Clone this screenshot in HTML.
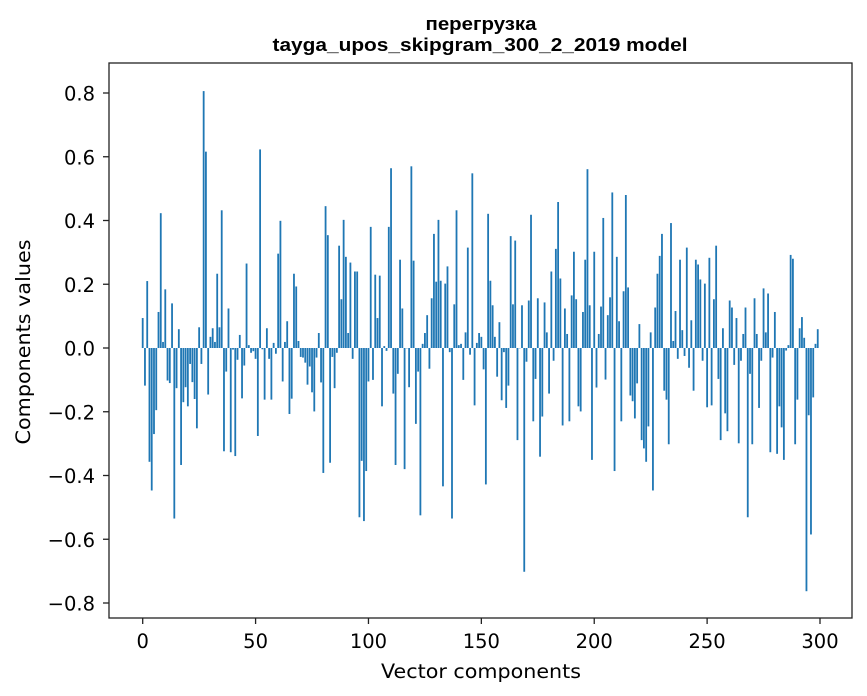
<!DOCTYPE html>
<html><head><meta charset="utf-8"><style>
html,body{margin:0;padding:0;background:#fff;}
svg{display:block;font-family:"DejaVu Sans","Liberation Sans",sans-serif;}
</style></head><body>
<svg id="chart" width="867" height="696" viewBox="0 0 867 696">
<text x="481" y="30" text-anchor="middle" font-size="18" font-weight="bold" font-family="Liberation Sans, sans-serif" textLength="111" lengthAdjust="spacingAndGlyphs">перегрузка</text>
<text x="480" y="51" text-anchor="middle" font-size="18" font-weight="bold" font-family="Liberation Sans, sans-serif" textLength="415" lengthAdjust="spacingAndGlyphs">tayga_upos_skipgram_300_2_2019 model</text>
<g id="bars"></g>
<g id="yticks"></g>
<g id="xticks"></g>
<rect x="109" y="63" width="743" height="555" fill="none" stroke="#222" stroke-width="1.3"/>
<text x="481" y="678" text-anchor="middle" font-size="19.5" textLength="200" lengthAdjust="spacingAndGlyphs">Vector components</text>
<text transform="translate(30,342) rotate(-90)" text-anchor="middle" font-size="19.5" textLength="205" lengthAdjust="spacingAndGlyphs">Components values</text>
</svg>
<script>
const values = [0.094,-0.118,0.21,-0.357,-0.447,-0.27,-0.195,0.113,0.423,0.019,
0.184,-0.102,-0.11,0.14,-0.535,-0.126,0.059,-0.367,-0.17,-0.123,
-0.183,-0.05,-0.107,-0.16,-0.252,0.065,-0.05,0.806,0.616,-0.146,
0.035,0.062,0.019,0.233,0.065,0.432,-0.324,-0.074,0.124,-0.327,
-0.005,-0.339,-0.037,0.041,-0.158,-0.055,0.265,0.009,-0.015,-0.01,
-0.034,-0.276,0.623,-0.004,-0.162,0.062,-0.034,-0.162,0.016,-0.018,
0.296,0.399,-0.105,0.019,0.084,-0.207,-0.159,0.233,0.193,0.022,
-0.028,-0.03,-0.046,-0.115,-0.058,-0.139,-0.199,-0.03,0.047,-0.108,
-0.392,0.445,0.354,-0.36,-0.028,-0.126,-0.015,0.321,0.153,0.402,
0.286,0.047,0.268,-0.034,0.24,0.24,-0.531,-0.354,-0.543,-0.386,
-0.105,0.38,-0.1,0.23,0.094,0.227,-0.183,0.006,-0.009,0.38,
0.564,-0.143,-0.367,-0.081,0.277,0.124,-0.38,0.0,-0.123,0.57,
0.274,-0.238,-0.074,-0.525,0.013,0.047,0.103,-0.065,0.156,0.358,
0.208,0.402,0.211,-0.434,0.202,0.256,-0.013,-0.535,0.137,0.432,
0.009,0.013,-0.1,0.049,0.315,-0.021,0.548,-0.18,0.016,0.047,
0.035,-0.067,-0.428,0.421,0.211,0.134,0.035,-0.09,0.081,-0.164,
-0.013,-0.188,-0.118,0.351,0.137,0.337,-0.289,0.0,0.134,-0.702,
-0.043,0.149,0.418,-0.23,-0.097,0.156,-0.341,-0.215,0.143,0.049,
-0.143,0.24,-0.04,0.311,0.458,0.218,-0.243,0.124,0.044,-0.23,
0.165,0.302,0.153,-0.183,-0.199,0.113,0.277,0.561,0.134,-0.351,
0.302,-0.124,0.044,0.13,0.408,-0.099,0.103,0.159,0.488,-0.386,
0.286,0.084,-0.23,0.178,0.48,0.19,-0.149,-0.167,-0.221,-0.111,
0.075,-0.289,-0.315,-0.357,-0.246,0.049,-0.447,0.127,0.233,0.289,
0.358,-0.134,-0.162,-0.302,0.392,0.022,0.116,-0.034,0.277,0.056,
-0.025,0.315,-0.062,0.087,-0.134,0.277,0.262,0.215,-0.04,0.202,
-0.186,0.283,-0.18,0.153,0.321,-0.097,-0.289,0.062,-0.205,-0.261,
0.149,0.127,-0.053,0.094,-0.299,-0.04,0.044,0.127,-0.531,-0.081,
-0.302,0.156,0.044,-0.188,-0.04,0.187,0.049,0.171,-0.327,-0.03,
0.113,-0.332,-0.183,-0.249,-0.351,-0.008,0.009,0.292,0.28,-0.302,
-0.162,0.062,0.097,0.032,-0.763,-0.211,-0.585,-0.155,0.013,0.059];
const yTickValues = [0.8,0.6,0.4,0.2,0.0,-0.2,-0.4,-0.6,-0.8];
const yTickLabels = ["0.8","0.6","0.4","0.2","0.0","\u22120.2","\u22120.4","\u22120.6","\u22120.8"];
const xTickValues = [0,50,100,150,200,250,300];
const xTickLabels = ["0","50","100","150","200","250","300"];

const NS = "http://www.w3.org/2000/svg";
function xScale(i){ return 142.7 + (820.0-142.7)*i/300; }
function yScale(v){ return 348 - v*318.75; }
const bw = (xScale(1)-xScale(0))*0.8;

const barsG = document.getElementById('bars');
values.forEach(function(v,i){
  const r = document.createElementNS(NS,'rect');
  const y0 = yScale(0), y1 = yScale(v);
  r.setAttribute('x', xScale(i)-bw/2);
  r.setAttribute('y', Math.min(y0,y1));
  r.setAttribute('width', bw);
  r.setAttribute('height', Math.max(Math.abs(y1-y0),0.3));
  r.setAttribute('fill', '#1f77b4');
  
  
  barsG.appendChild(r);
});

const yg = document.getElementById('yticks');
yTickValues.forEach(function(v,k){
  const y = yScale(v);
  const l = document.createElementNS(NS,'line');
  l.setAttribute('x1',103); l.setAttribute('x2',109);
  l.setAttribute('y1',y); l.setAttribute('y2',y);
  l.setAttribute('stroke','#222'); l.setAttribute('stroke-width','1.3');
  
  
  yg.appendChild(l);
  const t = document.createElementNS(NS,'text');
  t.setAttribute('x',95); t.setAttribute('y',y+7.5);
  t.setAttribute('text-anchor','end'); t.setAttribute('font-size','19.5');
  t.textContent = yTickLabels[k];
  
  
  yg.appendChild(t);
});

const xg = document.getElementById('xticks');
xTickValues.forEach(function(v,k){
  const x = xScale(v);
  const l = document.createElementNS(NS,'line');
  l.setAttribute('x1',x); l.setAttribute('x2',x);
  l.setAttribute('y1',618); l.setAttribute('y2',624);
  l.setAttribute('stroke','#222'); l.setAttribute('stroke-width','1.3');
  
  
  xg.appendChild(l);
  const t = document.createElementNS(NS,'text');
  t.setAttribute('x',x); t.setAttribute('y',648);
  t.setAttribute('text-anchor','middle'); t.setAttribute('font-size','19.5');
  t.textContent = xTickLabels[k];
  
  
  xg.appendChild(t);
});
</script>
</body></html>
